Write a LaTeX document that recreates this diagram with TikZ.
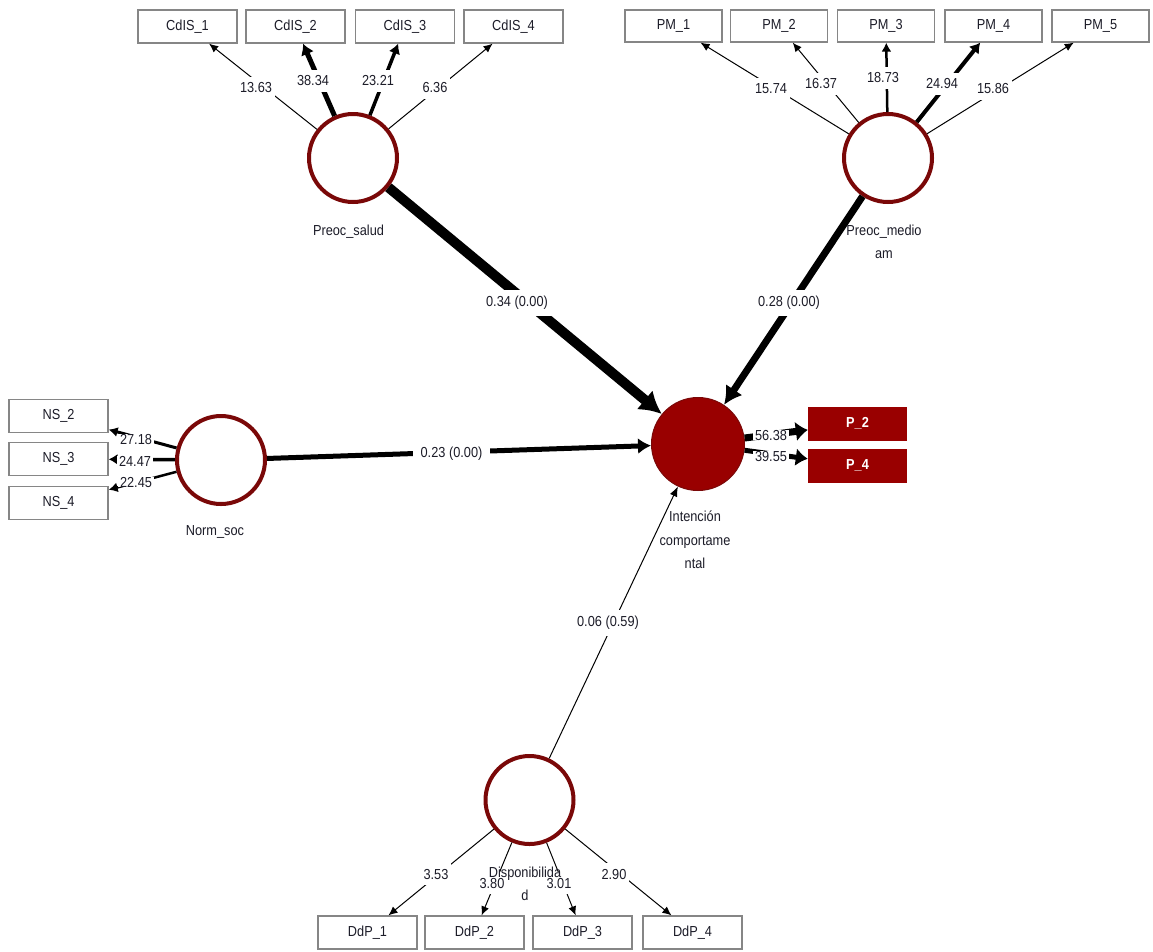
\documentclass[tikz,border=0pt]{standalone}
\usepackage{fontspec}
\setmainfont{Liberation Sans}[FakeStretch=0.88]
\usetikzlibrary{arrows.meta}

\definecolor{lvborder}{HTML}{7A0808}
\definecolor{lvfill}{HTML}{990000}
\definecolor{boxline}{HTML}{868686}
\definecolor{txt}{HTML}{1C1C28}

\tikzset{
  every node/.style={font=\fontsize{14.5}{17}\selectfont, text=txt},
  indbox/.style={draw=boxline, line width=1.3pt, fill=white, minimum width=99pt, minimum height=33pt, inner sep=0pt},
  indfilled/.style={fill=lvfill, minimum width=99pt, minimum height=34pt, inner sep=0pt, text=white, font=\fontsize{14.5}{17}\selectfont\bfseries},
  latent/.style={circle, draw=lvborder, line width=4pt, fill=white, minimum size=88pt, inner sep=0pt},
  latentend/.style={circle, draw=lvborder, line width=1pt, fill=lvfill, minimum size=93pt, inner sep=0pt},
  caption/.style={align=center, inner sep=0pt, font=\fontsize{14.5}{23.5}\selectfont},
  val/.style={fill=white, inner xsep=3pt, inner ysep=6pt},
  valtight/.style={fill=white, inner xsep=2pt, inner ysep=0pt},
  coef/.style={fill=white, inner xsep=8pt, inner ysep=6pt},
  link/.style n args={3}{draw=black, line width=#1pt, -{Latex[length=#2pt,width=#3pt]}},
}

\begin{document}
\begin{tikzpicture}[x=1pt, y=-1pt]
  \useasboundingbox[fill=white] (0,0) rectangle (1153,951);

  % indicator boxes
  \node[indbox] (c1) at (187.5,26.5) {CdIS\_1};
  \node[indbox] (c2) at (295.5,26.5) {CdIS\_2};
  \node[indbox] (c3) at (405,26.5) {CdIS\_3};
  \node[indbox] (c4) at (513.5,26.5) {CdIS\_4};

  \node[indbox, minimum width=97pt, minimum height=32pt] (m1) at (673.5,26) {PM\_1};
  \node[indbox, minimum width=97pt, minimum height=32pt] (m2) at (779,26) {PM\_2};
  \node[indbox, minimum width=97pt, minimum height=32pt] (m3) at (886,26) {PM\_3};
  \node[indbox, minimum width=97pt, minimum height=32pt] (m4) at (993.5,26) {PM\_4};
  \node[indbox, minimum width=97pt, minimum height=32pt] (m5) at (1100.5,26) {PM\_5};

  \node[indbox] (n2) at (58.5,416) {NS\_2};
  \node[indbox] (n3) at (58.5,459) {NS\_3};
  \node[indbox] (n4) at (58.5,503) {NS\_4};

  \node[indbox] (d1) at (367.5,932.5) {DdP\_1};
  \node[indbox] (d2) at (474.5,932.5) {DdP\_2};
  \node[indbox] (d3) at (582.5,932.5) {DdP\_3};
  \node[indbox] (d4) at (692.5,932.5) {DdP\_4};

  \node[indfilled] (p2) at (857.5,423.5) {P\_2};
  \node[indfilled] (p4) at (857.5,465.5) {P\_4};

  % latent variables
  \node[latent] (ps) at (353,158) {};
  \node[latent] (pm) at (888,158) {};
  \node[latent] (ns) at (221,460) {};
  \node[latent] (dp) at (529.5,800) {};
  \node[latentend] (ic) at (698,444) {};

  % outer loadings
  \draw[link={1}{9}{8}]   (ps) -- (c1);
  \draw[link={5}{11}{14}] (ps) -- (c2);
  \draw[link={3.5}{10}{12}] (ps) -- (c3);
  \draw[link={1}{9}{8}]   (ps) -- (c4);

  \draw[link={1}{9}{8}]   (pm) -- (m1);
  \draw[link={1}{9}{8}]   (pm) -- (m2);
  \draw[link={2.5}{9}{10}] (pm) -- (m3);
  \draw[link={4}{10}{13}] (pm) -- (m4);
  \draw[link={1}{9}{8}]   (pm) -- (m5);

  \draw[link={3}{9}{10}]  (ns) -- (n2);
  \draw[link={3.5}{9}{11}] (ns) -- (n3);
  \draw[link={2.5}{9}{10}] (ns) -- (n4);

  \draw[link={7}{12}{20}] (ic) -- (p2);
  \draw[link={5}{12}{18}] (ic) -- (p4);

  \draw[link={1}{9}{8}] (dp) -- (d1);
  \draw[link={1}{9}{8}] (dp) -- (d2);
  \draw[link={1}{9}{8}] (dp) -- (d3);
  \draw[link={1}{9}{8}] (dp) -- (d4);

  % structural paths
  \draw[link={10}{22}{25}] (ps) -- (ic);
  \draw[link={7}{18}{20}]  (pm) -- (ic);
  \draw[link={5}{13}{16}]  (ns) -- (ic);
  \draw[link={1}{10}{8}]   (dp) -- (ic);

  % loading values
  \node[val] (v1) at (256,88) {13.63};
  \node[val] (v2) at (313,81) {38.34};
  \node[val] (v3) at (378,81) {23.21};
  \node[val] (v4) at (435,88) {6.36};

  \node[val] (v5) at (771,89) {15.74};
  \node[val] (v6) at (821,84) {16.37};
  \node[val] (v7) at (883,78) {18.73};
  \node[val] (v8) at (942,84) {24.94};
  \node[val] (v9) at (993,89) {15.86};

  \node[valtight] (v10) at (136,439) {27.18};
  \node[valtight] (v11) at (135,461) {24.47};
  \node[valtight] (v12) at (136,482) {22.45};

  \node[valtight] (v13) at (771,435) {56.38};
  \node[valtight] (v14) at (771,456) {39.55};

  \node[val] (v15) at (436,874) {3.53};
  \node[val] (v16) at (492,883) {3.80};
  \node[val] (v17) at (559,883) {3.01};
  \node[val] (v18) at (614,874) {2.90};

  % path coefficients
  \node[coef] (k1) at (517,303) {0.34 (0.00)};
  \node[coef] (k2) at (789,303) {0.28 (0.00)};
  \node[coef] (k3) at (451.5,453.5) {0.23 (0.00)};
  \node[coef] (k4) at (608,623) {0.06 (0.59)};

  % construct names
  \node[caption] (t1) at (348.5,232) {Preoc\_salud};
  \node[caption] (t2) at (884,242) {Preoc\_medio\\am};
  \node[caption] (t3) at (215,532) {Norm\_soc};
  \node[caption] (t4) at (695,540) {Intención\\comportame\\ntal};
  \node[caption] (t5) at (525,884) {Disponibilida\\d};
\end{tikzpicture}
\end{document}
